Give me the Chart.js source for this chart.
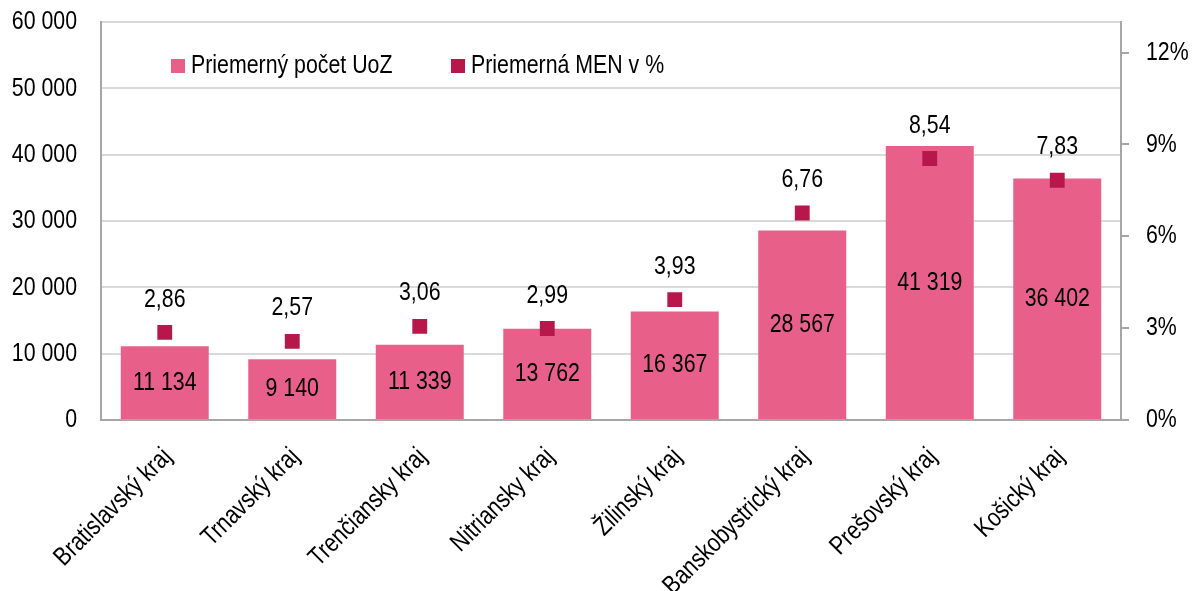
<!DOCTYPE html>
<html>
<head>
<meta charset="utf-8">
<script src="https://cdn.jsdelivr.net/npm/chart.js@4/dist/chart.umd.min.js"></script>
<style>
  html, body { margin: 0; padding: 0; background: #fff; }
  .chart-size { position: relative; width: 1197px; height: 591px; }
</style>
</head>
<body>
<div class="chart-size"><canvas id="chart"></canvas></div>
<script>
const regions = ["Bratislavský kraj", "Trnavský kraj", "Trenčiansky kraj", "Nitriansky kraj",
  "Žilinský kraj", "Banskobystrický kraj", "Prešovský kraj", "Košický kraj"];
const avgUoz = [11134, 9140, 11339, 13762, 16367, 28567, 41319, 36402];
const avgMen = [2.86, 2.57, 3.06, 2.99, 3.93, 6.76, 8.54, 7.83];
const uozTicks = [0, 10000, 20000, 30000, 40000, 50000, 60000];
const menTicks = [0, 3, 6, 9, 12];

const FONT = "26px 'Liberation Sans', Arial, sans-serif";
const NARROW = 0.82; // squeeze to look like Arial Narrow
const BAR_COLOR = "#e8608a";
const MARK_COLOR = "#b8174b";

const spaced = v => String(v).replace(/\B(?=(\d{3})+(?!\d))/g, " ");
const comma = v => v.toFixed(2).replace(".", ",");

function narrowText(ctx, text, x, y, align, baseline, rot) {
  ctx.save();
  ctx.translate(x, y);
  if (rot) ctx.rotate(rot);
  ctx.scale(NARROW, 1);
  ctx.textAlign = align;
  ctx.textBaseline = baseline;
  ctx.fillText(text, 0, 0);
  ctx.restore();
}

// all the texts are drawn here so they can be condensed
const textPlugin = {
  id: "narrowTexts",
  afterDraw(chart) {
    const ctx = chart.ctx;
    const { x, y, y1 } = chart.scales;
    ctx.save();
    ctx.font = FONT;
    ctx.fillStyle = "#000";

    uozTicks.forEach(v => narrowText(ctx, spaced(v), 77, y.getPixelForValue(v), "right", "middle"));
    menTicks.forEach(v => narrowText(ctx, v + "%", 1146, y1.getPixelForValue(v), "left", "middle"));
    regions.forEach((r, i) => {
      narrowText(ctx, r, x.getPixelForTick(i) + 8, y.bottom + 38, "right", "alphabetic", -Math.PI / 4);
    });

    chart.getDatasetMeta(0).data.forEach((bar, i) => {
      narrowText(ctx, spaced(avgUoz[i]), bar.x, (bar.y + bar.base) / 2, "center", "middle");
    });
    chart.getDatasetMeta(1).data.forEach((pt, i) => {
      narrowText(ctx, comma(avgMen[i]), pt.x, pt.y - 33, "center", "middle");
    });

    // legend sits inside the plot
    const items = [
      { text: chart.data.datasets[0].label, color: BAR_COLOR, x: 171 },
      { text: chart.data.datasets[1].label, color: MARK_COLOR, x: 451 }
    ];
    items.forEach(it => {
      ctx.fillStyle = it.color;
      ctx.fillRect(it.x, 59, 14, 14);
      ctx.fillStyle = "#000";
      narrowText(ctx, it.text, it.x + 20, 66, "left", "middle");
    });
    ctx.restore();
  }
};

new Chart(document.getElementById("chart"), {
  data: {
    labels: regions,
    datasets: [
      {
        type: "bar",
        label: "Priemerný počet UoZ",
        data: avgUoz,
        backgroundColor: BAR_COLOR,
        borderWidth: 0,
        categoryPercentage: 0.69,
        barPercentage: 1,
        yAxisID: "y",
        order: 2
      },
      {
        type: "line",
        label: "Priemerná MEN v %",
        data: avgMen,
        showLine: false,
        pointStyle: "rect",
        pointRadius: 10.5,
        pointBackgroundColor: MARK_COLOR,
        pointBorderColor: MARK_COLOR,
        pointBorderWidth: 0,
        yAxisID: "y1",
        order: 1
      }
    ]
  },
  options: {
    responsive: true,
    maintainAspectRatio: false,
    animation: false,
    layout: { padding: { top: 22, left: 0, right: 0, bottom: 0 } },
    plugins: {
      legend: { display: false },
      tooltip: { enabled: false }
    },
    scales: {
      x: {
        grid: { display: false, drawTicks: false },
        border: { display: true, color: "#a6a6a6", width: 2 },
        ticks: { display: false },
        afterFit(scale) { scale.height = 171; scale.paddingLeft = 0; scale.paddingRight = 0; }
      },
      y: {
        position: "left",
        min: 0,
        max: 60000,
        afterBuildTicks(scale) { scale.ticks = uozTicks.map(v => ({ value: v })); },
        grid: { color: "#d9d9d9", lineWidth: 2, drawTicks: false },
        border: { color: "#a6a6a6", width: 2 },
        ticks: { display: false },
        afterFit(scale) { scale.width = 101; scale.paddingTop = 0; scale.paddingBottom = 0; }
      },
      y1: {
        position: "right",
        min: 0,
        max: 13,
        afterBuildTicks(scale) { scale.ticks = menTicks.map(v => ({ value: v })); },
        grid: { drawOnChartArea: false, color: "#a6a6a6", lineWidth: 2, tickLength: 8 },
        border: { color: "#a6a6a6", width: 2 },
        ticks: { display: false },
        afterFit(scale) { scale.width = 76; scale.paddingTop = 0; scale.paddingBottom = 0; }
      }
    }
  },
  plugins: [textPlugin]
});
</script>
</body>
</html>
